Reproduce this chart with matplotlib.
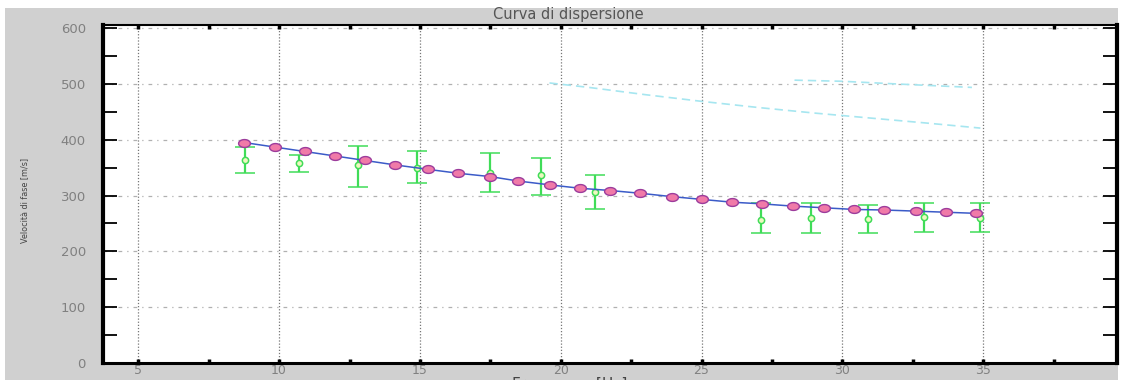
import numpy as np
import matplotlib
matplotlib.use("Agg")
import matplotlib.pyplot as plt
from matplotlib.patches import Rectangle
from matplotlib.ticker import MultipleLocator

# ---- data ----
freq_model = [8.77, 9.84, 10.91, 11.98, 13.04, 14.11, 15.28, 16.35, 17.49, 18.49,
              19.63, 20.69, 21.76, 22.83, 23.95, 25.02, 26.09, 27.16, 28.23, 29.35,
              30.42, 31.49, 32.60, 33.68, 34.75]
vel_model = [395, 387, 379, 371, 363, 355, 347, 340, 334, 326,
             319, 313, 309, 304, 298, 293, 288, 285, 281, 278,
             275, 274, 272, 270, 268]

freq_exp = [8.8, 10.7, 12.8, 14.9, 17.5, 19.3, 21.2, 27.1, 28.9, 30.9, 32.9, 34.9]
vel_exp = [363, 358, 354, 349, 340, 337, 307, 256, 259, 257, 261, 259]
vel_exp_lo = [341, 343, 316, 322, 307, 301, 275, 232, 233, 232, 235, 235]
vel_exp_hi = [387, 373, 389, 379, 376, 367, 337, 286, 286, 283, 286, 287]

freq_mode2 = [19.6, 21, 23, 25, 27, 29, 31, 33, 34.9]
vel_mode2 = [502, 494, 481, 469, 458, 448, 439, 430, 421]

freq_mode3 = [28.3, 30, 32, 34.6]
vel_mode3 = [507, 505, 500, 494]

title = "Curva di dispersione"
xlabel = "Frequenza [Hz]"
ylabel = "Velocità di fase [m/s]"

# ---- figure ----
W, H = 1122, 380
fig = plt.figure(figsize=(W / 100, H / 100), dpi=100, facecolor="white")
fig.patches.append(Rectangle((5 / W, 0), (1118 - 5) / W, (380 - 8) / H,
                             transform=fig.transFigure, facecolor="#d0d0d0",
                             edgecolor="none", zorder=-10))

left, right, top, bottom = 102.5, 1116.7, 25, 362.7
ax = fig.add_axes([left / W, (H - bottom) / H, (right - left) / W, (bottom - top) / H])
ax.set_facecolor("white")
ax.set_xlim(3.73, 39.74)
ax.set_ylim(0, 606)

# grid
ax.set_axisbelow(True)
for xv in range(5, 40, 5):
    ax.axvline(xv, color="#777777", lw=0.9, ls=(0, (1, 1.5)), zorder=0)
for yv in range(100, 601, 100):
    ax.axhline(yv, color="#b0b0b0", lw=0.9, ls=(0, (3, 4, 1, 4)), zorder=0)

# other modes (cyan dashed)
ax.plot(freq_mode2, vel_mode2, color="#a6e6f0", lw=1.2, ls=(0, (5, 3)), zorder=2)
ax.plot(freq_mode3, vel_mode3, color="#a6e6f0", lw=1.2, ls=(0, (5, 3)), zorder=2)

# experimental points with error bars
yerr = [np.array(vel_exp) - np.array(vel_exp_lo), np.array(vel_exp_hi) - np.array(vel_exp)]
ax.errorbar(freq_exp, vel_exp, yerr=yerr, fmt="o", color="#40dc58", ecolor="#40dc58",
            elinewidth=1.6, capsize=7, capthick=1.3, markersize=4.5,
            markerfacecolor="#eef8c0", markeredgecolor="#40dc58", markeredgewidth=1.1,
            zorder=3)

# model curve
t = np.linspace(0, 2 * np.pi, 40)
ellipse = np.column_stack([1.5 * np.cos(t), np.sin(t)])
ax.plot(freq_model, vel_model, color="#3b5bc8", lw=1.1, marker=ellipse, markersize=8.5,
        markerfacecolor="#f07aa8", markeredgecolor="#9c3c9c", markeredgewidth=1.0,
        zorder=4)

# ticks
ax.xaxis.set_major_locator(MultipleLocator(5))
ax.xaxis.set_minor_locator(MultipleLocator(2.5))
ax.yaxis.set_major_locator(MultipleLocator(100))
ax.yaxis.set_minor_locator(MultipleLocator(50))
ax.tick_params(axis="y", which="both", direction="in", length=10, width=1.3,
               left=True, right=True, labelsize=9.5, labelcolor="#808080", pad=12)
ax.tick_params(axis="x", which="both", direction="in", length=3, width=2.5,
               bottom=True, top=True, labelsize=9, labelcolor="#808080", pad=1)
ax.set_xticks(range(5, 36, 5))
ax.set_xticklabels([str(v) for v in range(5, 36, 5)])

for side, lw in (("left", 3), ("right", 3), ("bottom", 2.2), ("top", 1.5)):
    ax.spines[side].set_linewidth(lw)
    ax.spines[side].set_color("black")

fig.text(568 / W, 1 - 15 / H, title, ha="center", va="center", fontsize=10.5,
         color="#555555")
fig.text(570 / W, 1 - 384 / H, xlabel, ha="center", va="center", fontsize=11,
         color="#444444")
fig.text(25 / W, 1 - 200 / H, ylabel, ha="center", va="center", rotation=90,
         fontsize=5.8, color="#444444")

fig.savefig("out.png", dpi=100, facecolor=fig.get_facecolor())
